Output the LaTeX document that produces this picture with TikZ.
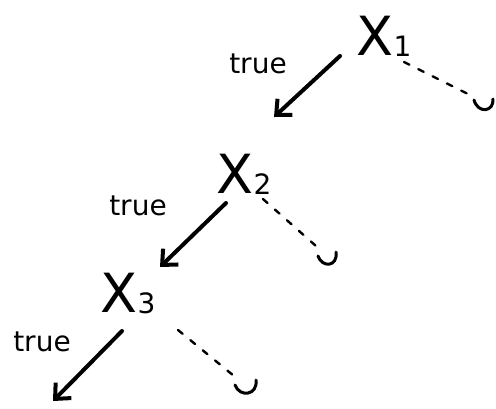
\documentclass[tikz,border=0pt]{standalone}
\usepackage{fontspec}
\setmainfont{DejaVu Sans}
\usetikzlibrary{arrows.meta}
\newcommand{\subidx}[1]{\raisebox{-1pt}{\fontsize{28}{28}\selectfont #1}}
\begin{document}
\begin{tikzpicture}[x=1pt,y=-1pt,
  var/.style={inner sep=0pt,font=\fontsize{54}{54}\selectfont},
  lab/.style={inner sep=0pt,font=\fontsize{28}{28}\selectfont},
  truearrow/.style={line width=4pt,line cap=round,-{Straight Barb[length=12pt,width=22pt,line width=4pt]}},
  falseedge/.style={line width=2.4pt,line cap=round,dash pattern=on 6pt off 10pt},
  hook/.style={line width=3pt,line cap=round}]
\useasboundingbox (0,0) rectangle (496,408);
% level 1
\node[var] (x1) at (384,36) {X\subidx{1}};
\node[lab] (t1) at (258,64) {true};
\coordinate (a1s) at (340,56);
\coordinate (a1e) at (274,117);
\coordinate (d1s) at (404,62);
\coordinate (d1e) at (472,96);
\draw[truearrow] (a1s) -- (a1e);
\draw[falseedge] (d1s) -- (d1e);
\draw[hook] (474,100) .. controls (478,114) and (494,112) .. (493,99);
% level 2
\node[var] (x2) at (244,174) {X\subidx{2}};
\node[lab] (t2) at (138,206) {true};
\coordinate (a2s) at (226,203);
\coordinate (a2e) at (160,267);
\coordinate (d2s) at (263,199);
\coordinate (d2e) at (316,246);
\draw[truearrow] (a2s) -- (a2e);
\draw[falseedge] (d2s) -- (d2e);
\draw[hook] (318,256) .. controls (322,268) and (338,267) .. (336,252);
% level 3
\node[var] (x3) at (128,294) {X\subidx{3}};
\node[lab] (t3) at (42,342) {true};
\coordinate (a3s) at (122,331);
\coordinate (a3e) at (53,401);
\coordinate (d3s) at (178,330);
\coordinate (d3e) at (234,376);
\draw[truearrow] (a3s) -- (a3e);
\draw[falseedge] (d3s) -- (d3e);
\draw[hook] (235,385) .. controls (240,398) and (258,395) .. (256,380);
\end{tikzpicture}
\end{document}
